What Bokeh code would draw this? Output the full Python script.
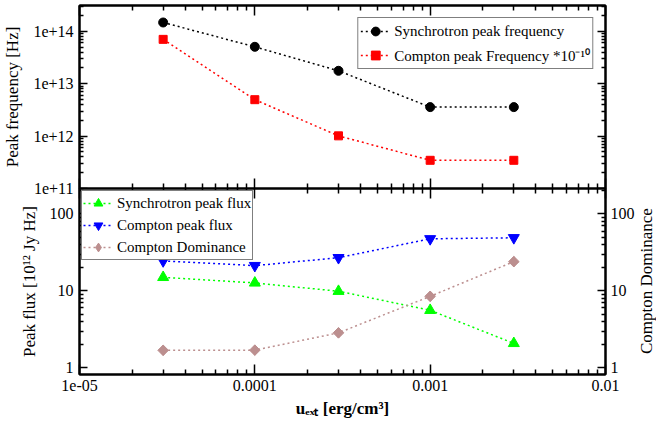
import math
from bokeh.plotting import figure
from bokeh.models import (Range1d, LogAxis, FixedTicker, CustomJSTickFormatter,
                          Legend, LegendItem, Div)
from bokeh.layouts import column, row
from bokeh.embed import file_html
from bokeh.resources import INLINE

# ---------------- data ----------------
u_ext = [3e-5, 1e-4, 3e-4, 1e-3, 3e-3]
sync_peak_freq = [1.47e14, 5.05e13, 1.76e13, 3.57e12, 3.57e12]
comp_peak_freq = [7.0e13, 4.95e12, 1.01e12, 3.45e11, 3.45e11]
sync_peak_flux = [15.0, 12.7, 9.9, 5.6, 2.08]
comp_peak_flux = [24.5, 21.3, 27.0, 47.5, 49.0]
comp_dominance = [1.69, 1.70, 2.85, 8.5, 24.0]

x_ticks = [1e-5, 1e-4, 1e-3, 1e-2]
x_tick_labels = ["1e-05", "0.0001", "0.001", "0.01"]
top_y_ticks = [1e11, 1e12, 1e13, 1e14]
top_y_tick_labels = ["1e+11", "1e+12", "1e+13", "1e+14"]
bot_y_ticks = [1, 10, 100]
bot_y_tick_labels = ["1", "10", "100"]

FONT = "Liberation Serif"


def minor_list(e0, e1):
    return [m * 10.0 ** e for e in range(e0, e1) for m in range(2, 10)]


def fmt(tick_vals, tick_labels):
    return CustomJSTickFormatter(args=dict(tvals=tick_vals, tlabels=tick_labels), code="""
        for (let i = 0; i < tvals.length; i++) {
            if (Math.abs(Math.log10(tick) - Math.log10(tvals[i])) < 1e-6) return tlabels[i];
        }
        return "";
    """)


def blank_fmt():
    return CustomJSTickFormatter(code="return '';")


def style_axis(ax, major_in, minor_in, show_labels, label_standoff=6, title_standoff=8):
    ax.major_tick_in = major_in
    ax.major_tick_out = 0
    ax.minor_tick_in = minor_in
    ax.minor_tick_out = 0
    ax.axis_line_width = 2
    ax.axis_line_color = "black"
    ax.major_tick_line_width = 1.5
    ax.minor_tick_line_width = 1.5
    ax.major_tick_line_color = "black"
    ax.minor_tick_line_color = "black"
    ax.major_label_text_font = FONT
    ax.major_label_text_color = "black"
    ax.axis_label_text_font = FONT
    ax.axis_label_text_font_style = "normal"
    ax.axis_label_text_color = "black"
    ax.axis_label_text_font_size = "17px"
    ax.axis_label_standoff = title_standoff
    if show_labels:
        ax.major_label_text_font_size = "16px"
        ax.major_label_standoff = label_standoff
    else:
        ax.formatter = blank_fmt()
        ax.major_label_text_font_size = "0px"
        ax.major_label_standoff = 0


def style_legend(leg, glyph_h, spacing, padding, margin):
    leg.label_text_font = FONT
    leg.label_text_font_size = "15px"
    leg.label_text_color = "black"
    leg.border_line_color = "black"
    leg.border_line_width = 1.5
    leg.background_fill_color = "white"
    leg.background_fill_alpha = 1
    leg.glyph_width = 30
    leg.glyph_height = glyph_h
    leg.label_height = glyph_h
    leg.spacing = spacing
    leg.padding = padding
    leg.margin = margin
    leg.label_standoff = 4


x_range = Range1d(1e-5, 1e-2)
x_ticker = FixedTicker(ticks=x_ticks, minor_ticks=minor_list(-5, -2))
top_ticker = FixedTicker(ticks=top_y_ticks, minor_ticks=minor_list(11, 15))
bot_ticker = FixedTicker(ticks=bot_y_ticks, minor_ticks=minor_list(0, 3))

FW = 526
LB = 79
RB = 48
RB2 = 32
FH1 = 183
FH2 = 186
# ---------------- top panel ----------------
p1 = figure(x_axis_type="log", y_axis_type="log", x_range=x_range,
            y_range=Range1d(1e11, 3.1e14),
            frame_width=FW, frame_height=FH1,
            min_border_left=LB, min_border_right=RB, min_border_top=5, min_border_bottom=10,
            output_backend="svg", toolbar_location=None)
p1.xgrid.visible = False
p1.ygrid.visible = False
p1.outline_line_color = "black"
p1.outline_line_width = 2

p1.xaxis.ticker = x_ticker
style_axis(p1.xaxis[0], 10, 5, False)
p1.yaxis.ticker = top_ticker
p1.yaxis.formatter = fmt(top_y_ticks, top_y_tick_labels)
p1.yaxis.axis_label = "Peak frequency [Hz]"
style_axis(p1.yaxis[0], 8, 4, True)

ax_top1 = LogAxis(ticker=x_ticker)
style_axis(ax_top1, 10, 5, False)
p1.add_layout(ax_top1, "above")
ax_right1 = LogAxis(ticker=top_ticker)
style_axis(ax_right1, 8, 4, False)
p1.add_layout(ax_right1, "right")

dash = "2 3"
l1 = p1.line(u_ext, sync_peak_freq, line_color="black", line_width=1.5, line_dash=dash)
s1 = p1.scatter(u_ext, sync_peak_freq, marker="circle", size=9,
                fill_color="black", line_color="black")
l2 = p1.line(u_ext, comp_peak_freq, line_color="red", line_width=1.5, line_dash=dash)
s2 = p1.scatter(u_ext, comp_peak_freq, marker="square", size=8,
                fill_color="red", line_color="red")

leg1 = Legend(items=[
    LegendItem(label="Synchrotron peak frequency", renderers=[l1, s1]),
    LegendItem(label="Compton peak Frequency *10\u207b\u00b9\u2070", renderers=[l2, s2]),
], location="top_right")
style_legend(leg1, 22, 2, 2, 12)
p1.add_layout(leg1)

# ---------------- bottom panel ----------------
p2 = figure(x_axis_type="log", y_axis_type="log", x_range=x_range,
            y_range=Range1d(0.82, 214),
            frame_width=FW, frame_height=FH2,
            min_border_left=LB, min_border_right=RB2, min_border_top=0, min_border_bottom=10,
            output_backend="svg", toolbar_location=None)
p2.xgrid.visible = False
p2.ygrid.visible = False
p2.outline_line_color = "black"
p2.outline_line_width = 2
p2.border_fill_alpha = 0
p2.background_fill_color = "white"

p2.xaxis.ticker = x_ticker
p2.xaxis.formatter = fmt(x_ticks, x_tick_labels)
p2.xaxis.axis_label = "u\u2091\u2093\u209c [erg/cm\u00b3]"
style_axis(p2.xaxis[0], 10, 5, True, label_standoff=5, title_standoff=5)
p2.xaxis.axis_label_text_font_style = "bold"
p2.yaxis.ticker = bot_ticker
p2.yaxis.formatter = fmt(bot_y_ticks, bot_y_tick_labels)
p2.yaxis.axis_label = "Peak flux [10\u00b9\u00b2 Jy Hz]"
style_axis(p2.yaxis[0], 8, 4, True)

ax_top2 = LogAxis(ticker=x_ticker)
style_axis(ax_top2, 10, 5, False)
p2.add_layout(ax_top2, "above")
ax_right2 = LogAxis(ticker=bot_ticker, formatter=fmt(bot_y_ticks, bot_y_tick_labels))
style_axis(ax_right2, 8, 4, True, label_standoff=5, title_standoff=3)
p2.add_layout(ax_right2, "right")

l3 = p2.line(u_ext, sync_peak_flux, line_color="#00ff00", line_width=1.5, line_dash=dash)
s3 = p2.scatter(u_ext, sync_peak_flux, marker="triangle", size=11,
                fill_color="#00ff00", line_color="#00ff00")
l4 = p2.line(u_ext, comp_peak_flux, line_color="blue", line_width=1.5, line_dash=dash)
s4 = p2.scatter(u_ext, comp_peak_flux, marker="inverted_triangle", size=11,
                fill_color="blue", line_color="blue")
l5 = p2.line(u_ext, comp_dominance, line_color="#bc8f8f", line_width=1.5, line_dash=dash)
# legend-facing diamond (hidden under the rotated squares in the plot)
d5 = p2.scatter(u_ext, comp_dominance, marker="diamond", size=10,
                fill_color="#bc8f8f", line_color="#bc8f8f")
s5 = p2.scatter(u_ext, comp_dominance, marker="square", size=7.5, angle=math.pi / 4,
                fill_color="#bc8f8f", line_color="#bc8f8f")

leg2 = Legend(items=[
    LegendItem(label="Synchrotron peak flux", renderers=[l3, s3]),
    LegendItem(label="Compton peak flux", renderers=[l4, s4]),
    LegendItem(label="Compton Dominance", renderers=[l5, d5]),
], location="top_left")
style_legend(leg2, 22, -4, 1, 2)
p2.add_layout(leg2)

# right-hand axis title, reading bottom-to-top like the left one
right_title = Div(
    text=('<div style="writing-mode: vertical-rl; transform: rotate(180deg); '
          'width: 20px; height: %dpx; text-align: center; line-height: 20px; '
          'font-family: \'Liberation Serif\'; font-size: 17px; color: black; '
          'white-space: nowrap;">Compton Dominance</div>') % FH2,
    width=20, height=FH2, margin=0)

bottom = row(p2, right_title, spacing=0, margin=(-10, 0, 0, 0))
layout = column(p1, bottom, spacing=0)
open("out.html", "w").write(file_html(layout, INLINE))
